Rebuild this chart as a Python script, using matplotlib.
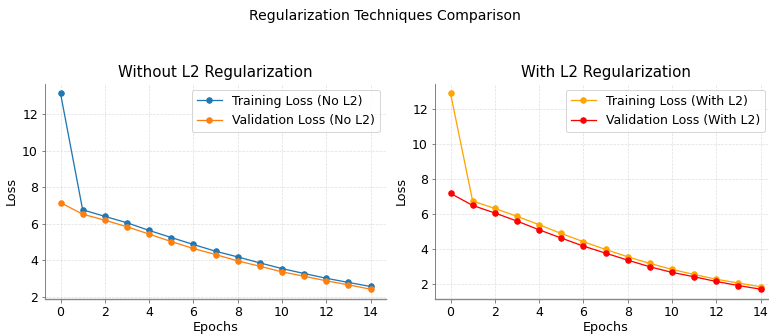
import matplotlib
matplotlib.use("Agg")
from matplotlib import pyplot as plt

epochs = list(range(15))

train_no_l2 = [13.15, 6.77, 6.41, 6.06, 5.64, 5.25, 4.87, 4.50, 4.19, 3.86, 3.55, 3.28, 3.02, 2.79, 2.57]
val_no_l2 = [7.16, 6.53, 6.20, 5.84, 5.44, 5.03, 4.65, 4.32, 3.97, 3.68, 3.37, 3.13, 2.88, 2.66, 2.42]

train_l2 = [12.91, 6.76, 6.34, 5.89, 5.41, 4.91, 4.44, 4.00, 3.58, 3.20, 2.86, 2.57, 2.30, 2.08, 1.87]
val_l2 = [7.20, 6.51, 6.08, 5.62, 5.12, 4.65, 4.19, 3.79, 3.39, 3.01, 2.69, 2.44, 2.17, 1.94, 1.73]

W, H = 769, 334
fig = plt.figure(figsize=(W / 72, H / 72), dpi=72)
fig.suptitle("Regularization Techniques Comparison", fontsize=14, y=1 - 16 / H, va="center")

# right panel runs past the image edge, as in the reference crop
ax1 = fig.add_axes([45 / W, 35 / H, 341 / W, 215.5 / H])
ax2 = fig.add_axes([435 / W, 35 / H, 341 / W, 215.5 / H])

ax1.plot(epochs, train_no_l2, marker="o", markersize=5.5, linewidth=1.3, color="tab:blue", label="Training Loss (No L2)")
ax1.plot(epochs, val_no_l2, marker="o", markersize=5.5, linewidth=1.3, color="tab:orange", label="Validation Loss (No L2)")
ax1.set_title("Without L2 Regularization", fontsize=15)

ax2.plot(epochs, train_l2, marker="o", markersize=5.5, linewidth=1.3, color="orange", label="Training Loss (With L2)")
ax2.plot(epochs, val_l2, marker="o", markersize=5.5, linewidth=1.3, color="red", label="Validation Loss (With L2)")
ax2.set_title("With L2 Regularization", fontsize=15)

for ax in (ax1, ax2):
    ax.set_xlabel("Epochs", fontsize=12.8, labelpad=2)
    ax.set_ylabel("Loss", fontsize=12.8)
    ax.set_xticks(range(0, 15, 2))
    ax.tick_params(labelsize=12.5, color="#666666")
    ax.grid(True, linestyle="--", alpha=0.4, linewidth=0.7)
    ax.spines["top"].set_visible(False)
    ax.spines["right"].set_visible(False)
    ax.spines["left"].set_color("#666666")
    ax.spines["bottom"].set_color("#888888")
    ax.spines["bottom"].set_linewidth(1.4)

ax1.legend(loc="upper right", fontsize=12.5)
ax2.legend(loc="upper right", fontsize=12.5, bbox_to_anchor=(771 / W, 1 - 83.5 / H),
           bbox_transform=fig.transFigure)

fig.savefig("out.png", dpi=72)
